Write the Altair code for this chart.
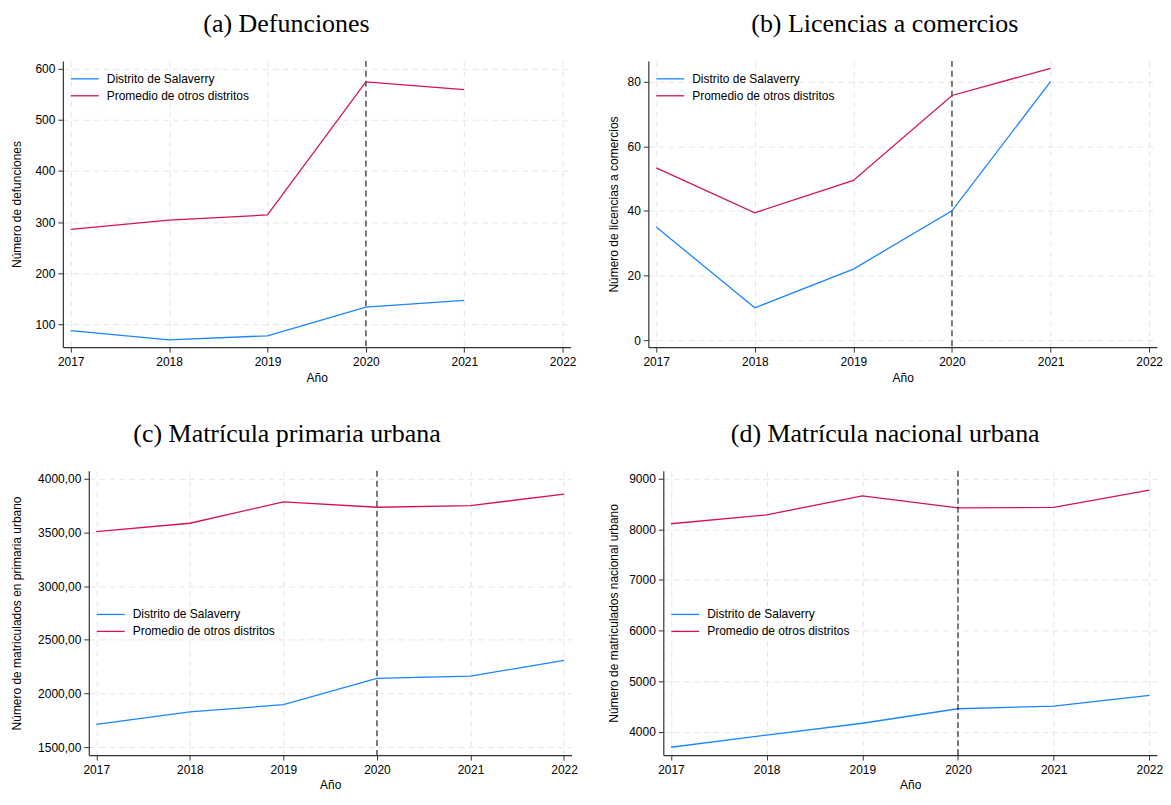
import altair as alt
import pandas as pd

years = [2017, 2018, 2019, 2020, 2021, 2022]
series_names = ["Distrito de Salaverry", "Promedio de otros distritos"]
series_colors = ["#1a85ff", "#d41159"]

def_salaverry = [88, 70, 78, 134, 147]
def_promedio = [286, 304, 314, 574, 559]
lic_salaverry = [35, 10, 22, 40, 80]
lic_promedio = [53.3, 39.4, 49.4, 75.7, 84.1]
prim_salaverry = [1713, 1829, 1896, 2141, 2162, 2309]
prim_promedio = [3506, 3585, 3783, 3734, 3749, 3856]
nac_salaverry = [3695, 3935, 4169, 4455, 4506, 4721]
nac_promedio = [8110, 8286, 8662, 8422, 8435, 8773]

ticks_def = [100, 200, 300, 400, 500, 600]
ticks_lic = [0, 20, 40, 60, 80]
ticks_prim = [1500, 2000, 2500, 3000, 3500, 4000]
ticks_nac = [4000, 5000, 6000, 7000, 8000, 9000]
event_year = [2020]

SANS = "Liberation Sans"
SERIF = "Liberation Serif"


def panel(title, ytitle, s1, s2, ydomain, yticks, width, height, legend_y,
          label_expr=None, rule_color="#555555", rule_width=1.5, rule_dash=(6, 4),
          title_pad=12, title_dx=0):
    df = pd.DataFrame({
        "Año": years[:len(s1)] + years[:len(s2)],
        "valor": s1 + s2,
        "serie": [series_names[0]] * len(s1) + [series_names[1]] * len(s2),
    })
    x = alt.X(
        "Año:Q",
        scale=alt.Scale(domain=[2016.92, 2022.08], nice=False, zero=False),
        axis=alt.Axis(values=years, format="d", title="Año", labelFlush=False,
                      labelOverlap=False, labelPadding=4, titlePadding=5),
    )
    yaxis_kw = dict(values=yticks, title=ytitle, format="d", labelPadding=3,
                    titlePadding=title_pad, labelOverlap=False)
    if label_expr:
        yaxis_kw["labelExpr"] = label_expr
    y = alt.Y("valor:Q", scale=alt.Scale(domain=ydomain, nice=False, zero=False),
              axis=alt.Axis(**yaxis_kw))
    lines = alt.Chart(df).mark_line(strokeWidth=1.3).encode(
        x=x,
        y=y,
        color=alt.Color(
            "serie:N",
            scale=alt.Scale(domain=series_names, range=series_colors),
            legend=alt.Legend(
                title=None, orient="none", legendX=14, legendY=legend_y,
                symbolType="M-2,0H2", symbolSize=196, symbolStrokeWidth=1.3,
                labelFont=SANS, labelFontSize=12, labelColor="black",
                labelOffset=14, rowPadding=3, padding=0,
            ),
        ),
        order=alt.Order("Año:Q"),
    )
    rule = alt.Chart(pd.DataFrame({"Año": event_year})).mark_rule(
        color=rule_color, strokeWidth=rule_width, strokeDash=list(rule_dash)
    ).encode(x="Año:Q")
    return alt.layer(lines, rule).properties(
        width=width,
        height=height,
        title=alt.Title(title, font=SERIF, fontSize=26, fontWeight="normal",
                        color="black", anchor="middle", frame="bounds",
                        offset=19, dy=-4, dx=title_dx),
    )


def spacer(w):
    return alt.Chart(pd.DataFrame({"v": [0]})).mark_point(size=0, opacity=0).properties(
        width=w, height=10
    )


def row(left, right):
    return alt.concat(
        spacer(1), left, spacer(30), right,
        columns=4, align="none", spacing=0,
    ).resolve_scale(color="independent").resolve_legend(color="independent")


pa = panel("(a) Defunciones", "Número de defunciones", def_salaverry, def_promedio,
           [55.8, 615], ticks_def, 509, 287, 10, title_pad=11, title_dx=-7)
pb = panel("(b) Licencias a comercios", "Número de licencias a comercios",
           lic_salaverry, lic_promedio, [-2.16, 86.4], ticks_lic, 510, 287, 10,
           title_pad=7)
pc = panel("(c) Matrícula primaria urbana", "Número de matriculados en primaria urbano",
           prim_salaverry, prim_promedio, [1427, 4073], ticks_prim, 484, 285, 136,
           label_expr="replace(format(datum.value, '.2f'), '.', ',')", title_pad=14,
           title_dx=-7)
pd_ = panel("(d) Matrícula nacional urbana", "Número de matriculados nacional urbano",
            nac_salaverry, nac_promedio, [3540, 9156], ticks_nac, 495, 285, 136,
            rule_color="black", rule_width=1, rule_dash=(6, 3), title_pad=8)

chart = alt.vconcat(row(pa, pb), row(pc, pd_), spacing=38).resolve_scale(
    color="independent"
).resolve_legend(color="independent").properties(
    padding={"left": 1, "top": 2, "right": 0, "bottom": 0}
).configure(background="white").configure_view(stroke=None).configure_axis(
    labelFont=SANS, labelFontSize=12, labelColor="black",
    titleFont=SANS, titleFontSize=12, titleFontWeight="normal", titleColor="black",
    domainColor="#333333", tickColor="#333333", tickSize=5, domainWidth=1.2,
    gridColor="#e6e6e6", gridDash=[6, 4], gridWidth=1,
)

chart.save("out.html", embed_options={"renderer": "svg", "actions": False})
